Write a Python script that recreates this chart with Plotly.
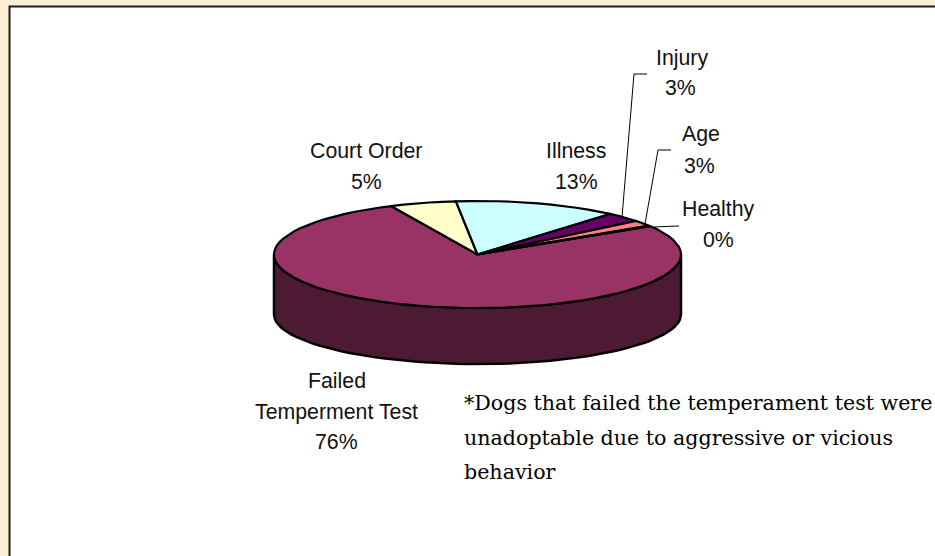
import numpy as np
import plotly.graph_objects as go

categories = ["Failed", "Court Order", "Illness", "Injury", "Age", "Healthy"]
percent_labels = ["76%", "5%", "13%", "3%", "3%", "0%"]
drawn_shares = [76.9, 5.3, 13.0, 2.9, 1.7, 0.2]
slice_colors = ["#993366", "#FFFFCC", "#CCFFFF", "#660066", "#FF8080", "#000000"]
wall_color = "#4C1A33"
note_lines = ["*Dogs that failed the temperament test were",
              "unadoptable due to aggressive or vicious",
              "behavior"]

CX, CY, A, B = 477.5, 254.5, 203.5, 53.5
WALL_DROP, WALL_B = 60, 49.5
START = 392  # first slice begins here and runs clockwise through the front

def ell(t):
    r = np.radians(t)
    return CX + A*np.cos(r), CY - B*np.sin(r)

fig = go.Figure()

# side wall of the front half
t = np.linspace(180, 360, 61)
x, y = ell(t)
yb = CY + WALL_DROP - WALL_B*np.sin(np.radians(t))
fig.add_trace(go.Scatter(x=np.r_[x, x[::-1], x[0]], y=np.r_[y, yb[::-1], y[0]], mode="lines",
                         fill="toself", fillcolor=wall_color,
                         line=dict(color="black", width=2.5), hoverinfo="skip", showlegend=False))

# top-face slices, computed from shares
angle = START
for name, share, color in zip(categories, drawn_shares, slice_colors):
    sweep = share/sum(drawn_shares)*360
    t = np.linspace(angle, angle-sweep, max(3, int(sweep/4)+2))
    x, y = ell(t)
    fig.add_trace(go.Scatter(x=np.r_[CX, x, CX], y=np.r_[CY, y, CY], mode="lines",
                             fill="toself", fillcolor=color,
                             line=dict(color="black", width=2.2), name=name, showlegend=False))
    angle -= sweep

# labels, one annotation per line to keep the reference's line spacing
label_lines = [("Failed", 337, 381), ("Temperment Test", 336, 412), ("76%", 336, 442),
               ("Court Order", 366, 151), ("5%", 366, 182),
               ("Illness", 576, 151), ("13%", 576, 182),
               ("Injury", 682, 58), ("3%", 680, 88),
               ("Age", 701, 134), ("3%", 699, 166),
               ("Healthy", 718, 209), ("0%", 718, 240)]
for text, lx, ly in label_lines:
    fig.add_annotation(x=lx, y=ly, text=text, showarrow=False,
                       font=dict(family="Liberation Sans", size=21.3, color="#111111"))

# leader lines
for lx, ly in [([647, 634, 622], [74, 74, 217]), ([671, 658, 645], [150, 150, 224]), ([679, 653], [226, 227])]:
    fig.add_trace(go.Scatter(x=lx, y=ly, mode="lines", line=dict(color="black", width=1),
                             hoverinfo="skip", showlegend=False))

# footnote
note_y = [403, 438, 472]
for line, ny in zip(note_lines, note_y):
    fig.add_annotation(x=462, y=ny, text=line, showarrow=False, xanchor="left",
                       font=dict(family="DejaVu Serif", size=20.6, color="black"))

fig.update_layout(
    width=935, height=556, margin=dict(l=0, r=0, t=0, b=0),
    paper_bgcolor="#FCEFD6", plot_bgcolor="#FCEFD6",
    xaxis=dict(range=[0, 935], visible=False, fixedrange=True),
    yaxis=dict(range=[556, 0], visible=False, fixedrange=True),
    shapes=[dict(type="rect", layer="below", x0=9.5, y0=6.5, x1=945, y1=570,
                 fillcolor="white", line=dict(color="#1c1c1c", width=2))],
)
fig.write_html("out.html", config={"displayModeBar": False},
               post_script="document.body.style.margin='0';document.documentElement.style.overflow='hidden';")
